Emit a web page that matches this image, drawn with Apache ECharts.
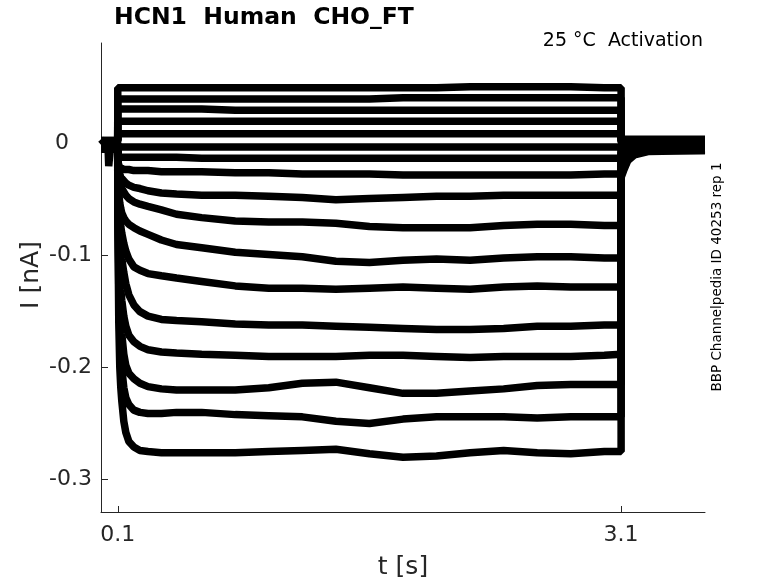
<!DOCTYPE html>
<html><head><meta charset="utf-8">
<script src="https://cdn.jsdelivr.net/npm/echarts@6/dist/echarts.min.js"></script>
<style>html,body{margin:0;padding:0;background:#fff}#c{width:778px;height:583px}</style>
</head><body><div id="c"></div>
<script>
// Tick positions
const X_TICKS = [0.1, 3.1];
const Y_TICKS = [-0.3, -0.2, -0.1, 0];

// Holding level (t = 0 .. 0.1 s) for each of the 17 sweeps, nA
const PRE_LEVEL = [0.004,0.003,0.003,0.002,0.002,0.001,0.000,0.000,-0.001,-0.001,-0.002,-0.002,-0.003,-0.003,-0.004,-0.004,-0.005];
// Short artefact dip in the holding period of the first sweep
const DIP_T = [0.042, 0.046, 0.052, 0.056];
const DIP_V = [-0.003, -0.020, -0.020, -0.003];

// Test pulse time points (s)
const STEP_T = [0.1,0.106,0.112,0.118,0.124,0.136,0.148,0.166,0.196,0.232,0.28,0.36,0.45,0.6,0.8,1.0,1.2,1.4,1.6,1.8,2.0,2.2,2.4,2.6,2.8,3.0,3.1];
// Current during the test pulse (nA), one array per sweep
const TR01 = [0.050,0.050,0.050,0.050,0.050,0.050,0.050,0.050,0.050,0.050,0.050,0.050,0.050,0.050,0.050,0.050,0.050,0.050,0.050,0.050,0.050,0.051,0.051,0.051,0.051,0.050,0.050];
const TR02 = [0.040,0.040,0.040,0.040,0.040,0.040,0.040,0.040,0.040,0.040,0.040,0.040,0.040,0.040,0.040,0.040,0.040,0.040,0.040,0.041,0.041,0.041,0.041,0.041,0.041,0.041,0.041];
const TR03 = [0.031,0.031,0.031,0.031,0.031,0.031,0.031,0.031,0.031,0.031,0.031,0.031,0.031,0.031,0.030,0.030,0.030,0.030,0.030,0.030,0.030,0.030,0.030,0.030,0.030,0.030,0.030];
const TR04 = [0.020,0.020,0.020,0.020,0.020,0.020,0.020,0.020,0.020,0.020,0.020,0.020,0.020,0.020,0.020,0.020,0.020,0.020,0.020,0.020,0.020,0.020,0.020,0.020,0.020,0.020,0.020];
const TR05 = [0.009,0.009,0.009,0.009,0.009,0.009,0.009,0.009,0.009,0.009,0.009,0.009,0.009,0.009,0.009,0.009,0.009,0.009,0.009,0.009,0.009,0.009,0.009,0.009,0.009,0.009,0.009];
const TR06 = [-0.003,-0.003,-0.003,-0.003,-0.003,-0.003,-0.003,-0.003,-0.003,-0.003,-0.003,-0.003,-0.003,-0.003,-0.003,-0.003,-0.003,-0.003,-0.003,-0.003,-0.003,-0.003,-0.003,-0.003,-0.003,-0.003,-0.003];
const TR07 = [-0.012,-0.012,-0.012,-0.012,-0.012,-0.012,-0.012,-0.012,-0.012,-0.012,-0.012,-0.012,-0.012,-0.013,-0.013,-0.013,-0.013,-0.013,-0.013,-0.013,-0.013,-0.013,-0.013,-0.013,-0.013,-0.013,-0.013];
const TR08 = [-0.015,-0.019,-0.021,-0.022,-0.022,-0.023,-0.023,-0.023,-0.024,-0.024,-0.024,-0.025,-0.025,-0.025,-0.026,-0.026,-0.027,-0.027,-0.027,-0.028,-0.028,-0.028,-0.028,-0.028,-0.028,-0.027,-0.027];
const TR09 = [-0.018,-0.024,-0.027,-0.030,-0.031,-0.033,-0.035,-0.037,-0.039,-0.040,-0.042,-0.044,-0.045,-0.046,-0.046,-0.047,-0.048,-0.050,-0.049,-0.048,-0.047,-0.047,-0.046,-0.046,-0.046,-0.046,-0.046];
const TR10 = [-0.020,-0.030,-0.034,-0.038,-0.040,-0.043,-0.046,-0.049,-0.052,-0.054,-0.056,-0.059,-0.063,-0.066,-0.069,-0.070,-0.070,-0.071,-0.074,-0.075,-0.075,-0.075,-0.073,-0.072,-0.072,-0.073,-0.073];
const TR11 = [-0.025,-0.045,-0.053,-0.058,-0.062,-0.066,-0.069,-0.072,-0.075,-0.078,-0.081,-0.086,-0.090,-0.093,-0.097,-0.099,-0.101,-0.105,-0.106,-0.104,-0.103,-0.104,-0.102,-0.101,-0.101,-0.102,-0.102];
const TR12 = [-0.030,-0.055,-0.066,-0.074,-0.080,-0.089,-0.096,-0.103,-0.110,-0.113,-0.116,-0.118,-0.120,-0.123,-0.127,-0.129,-0.129,-0.130,-0.129,-0.128,-0.129,-0.130,-0.128,-0.127,-0.128,-0.128,-0.128];
const TR13 = [-0.035,-0.070,-0.085,-0.095,-0.103,-0.115,-0.125,-0.135,-0.144,-0.150,-0.154,-0.157,-0.158,-0.159,-0.161,-0.162,-0.162,-0.163,-0.164,-0.165,-0.166,-0.166,-0.165,-0.163,-0.163,-0.162,-0.162];
const TR14 = [-0.040,-0.090,-0.115,-0.130,-0.140,-0.154,-0.163,-0.171,-0.177,-0.181,-0.184,-0.186,-0.187,-0.188,-0.189,-0.190,-0.190,-0.190,-0.189,-0.189,-0.190,-0.191,-0.190,-0.190,-0.190,-0.189,-0.188];
const TR15 = [-0.045,-0.110,-0.140,-0.158,-0.170,-0.188,-0.198,-0.205,-0.210,-0.214,-0.217,-0.219,-0.220,-0.220,-0.220,-0.218,-0.214,-0.213,-0.218,-0.223,-0.223,-0.221,-0.219,-0.216,-0.215,-0.215,-0.215];
const TR16 = [-0.050,-0.130,-0.170,-0.190,-0.201,-0.218,-0.227,-0.233,-0.238,-0.240,-0.241,-0.241,-0.240,-0.240,-0.242,-0.243,-0.244,-0.248,-0.250,-0.246,-0.244,-0.244,-0.244,-0.245,-0.244,-0.244,-0.244];
const TR17 = [-0.060,-0.160,-0.200,-0.218,-0.230,-0.248,-0.258,-0.266,-0.271,-0.274,-0.275,-0.276,-0.276,-0.276,-0.276,-0.275,-0.274,-0.273,-0.277,-0.280,-0.279,-0.276,-0.274,-0.276,-0.277,-0.275,-0.275];

// Tail currents after the pulse; one array per time point, one value per sweep
const TAIL_T = [3.1, 3.115, 3.14, 3.18, 3.26, 3.6];
const TAIL_3100 = [0.004,0.003,0.003,0.002,0.001,0.000,-0.001,-0.004,-0.008,-0.012,-0.015,-0.018,-0.021,-0.024,-0.026,-0.028,-0.030];
const TAIL_3115 = [0.004,0.003,0.003,0.002,0.001,0.000,-0.001,-0.003,-0.006,-0.009,-0.012,-0.014,-0.016,-0.018,-0.020,-0.022,-0.024];
const TAIL_3140 = [0.004,0.003,0.003,0.002,0.001,0.000,-0.001,-0.002,-0.004,-0.006,-0.008,-0.009,-0.011,-0.012,-0.013,-0.014,-0.015];
const TAIL_3180 = [0.004,0.003,0.003,0.002,0.001,0.000,-0.001,-0.002,-0.003,-0.004,-0.005,-0.006,-0.007,-0.008,-0.008,-0.009,-0.010];
const TAIL_3260 = [0.004,0.003,0.003,0.002,0.001,0.000,-0.001,-0.002,-0.003,-0.003,-0.004,-0.004,-0.005,-0.005,-0.006,-0.006,-0.007];
const TAIL_3600 = [0.004,0.003,0.003,0.002,0.001,0.000,-0.001,-0.002,-0.003,-0.003,-0.004,-0.004,-0.005,-0.005,-0.005,-0.006,-0.006];

const TRACES = [TR01,TR02,TR03,TR04,TR05,TR06,TR07,TR08,TR09,TR10,TR11,TR12,TR13,TR14,TR15,TR16,TR17];
const TAILS = [TAIL_3100,TAIL_3115,TAIL_3140,TAIL_3180,TAIL_3260,TAIL_3600];

const FONT = '"DejaVu Sans", "Liberation Sans", sans-serif';
const AX = '#262626';

const series = TRACES.map((tr, i) => {
  const data = [[0, PRE_LEVEL[i]]];
  if (i === 0) DIP_T.forEach((t, k) => data.push([t, DIP_V[k]]));
  data.push([0.0995, PRE_LEVEL[i]]);
  STEP_T.forEach((t, k) => data.push([t, tr[k]]));
  TAIL_T.forEach((t, k) => data.push([t, TAILS[k][i]]));
  return {
    type: 'line', data, showSymbol: false, silent: true, animation: false,
    lineStyle: { color: '#000', width: 7.5 }, clip: true
  };
});

const chart = echarts.init(document.getElementById('c'), null, { renderer: 'canvas' });
chart.setOption({
  animation: false,
  backgroundColor: '#fff',
  grid: { left: 101, top: 43, width: 604, height: 469 },
  xAxis: {
    type: 'value', min: 0, max: 3.6,
    axisLine: { show: true, onZero: false, lineStyle: { color: AX, width: 1 } },
    axisTick: { show: true, inside: true, length: 6, customValues: X_TICKS, lineStyle: { color: AX } },
    axisLabel: { customValues: X_TICKS, fontSize: 22, color: AX, fontFamily: FONT, margin: 12, formatter: v => String(v) },
    splitLine: { show: false }
  },
  yAxis: {
    type: 'value', min: -0.329, max: 0.09,
    axisLine: { show: true, onZero: false, lineStyle: { color: AX, width: 1 } },
    axisTick: { show: true, inside: true, length: 7, customValues: Y_TICKS, lineStyle: { color: AX } },
    axisLabel: {
      customValues: Y_TICKS, fontSize: 22, color: AX, fontFamily: FONT, margin: 9,
      formatter: v => (v === 0 ? '{z|0}' : String(v)),
      rich: { z: { fontSize: 22, color: AX, fontFamily: FONT, padding: [0, 23, 0, 0] } }
    },
    splitLine: { show: false }
  },
  graphic: [
    { type: 'text', x: 114, y: 18, style: { text: 'HCN1  Human  CHO_FT', font: 'bold 23.5px ' + FONT, fill: '#000', align: 'left', verticalAlign: 'middle' } },
    { type: 'text', x: 703, y: 41, style: { text: '25 °C  Activation', font: '19px ' + FONT, fill: '#000', align: 'right', verticalAlign: 'middle' } },
    { type: 'text', x: 717, y: 277, rotation: Math.PI / 2, style: { text: 'BBP Channelpedia ID 40253 rep 1', font: '13.5px ' + FONT, fill: '#000', align: 'center', verticalAlign: 'middle' } },
    { type: 'text', x: 31, y: 275, rotation: Math.PI / 2, style: { text: 'I [nA]', font: '25px ' + FONT, fill: AX, align: 'center', verticalAlign: 'middle' } },
    { type: 'text', x: 403, y: 567, style: { text: 't [s]', font: '25px ' + FONT, fill: AX, align: 'center', verticalAlign: 'middle' } }
  ],
  series
});
</script></body></html>
